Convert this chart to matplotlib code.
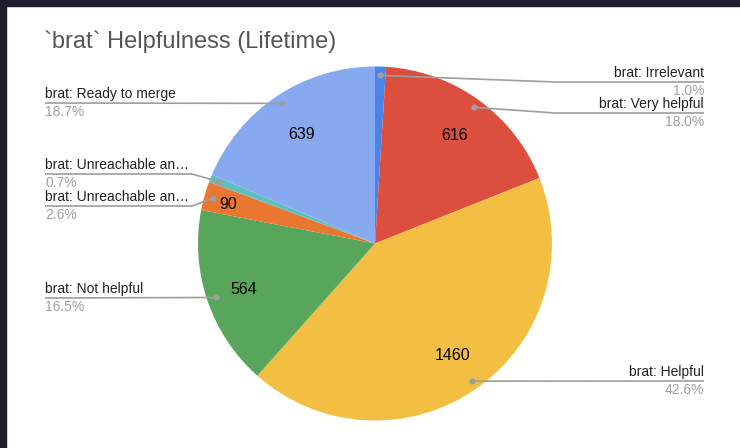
import numpy as np
import matplotlib
matplotlib.use("Agg")
import matplotlib.pyplot as plt
from matplotlib.patches import Rectangle

plt.rcParams["font.family"] = ["Liberation Sans", "DejaVu Sans"]

# Data
labels = ["brat: Irrelevant", "brat: Very helpful", "brat: Helpful", "brat: Not helpful",
          "brat: Unreachable an\u2026", "brat: Unreachable an\u2026", "brat: Ready to merge"]
counts = [34, 616, 1460, 564, 90, 24, 639]
percents = ["1.0%", "18.0%", "42.6%", "16.5%", "2.6%", "0.7%", "18.7%"]
show_value = [False, True, True, True, True, False, True]
colors = ["#4a84ea", "#dc4e3d", "#f2bf42", "#58a65c", "#ea7731", "#5fbfc0", "#86a9f0"]

W, H = 740, 448
fig = plt.figure(figsize=(W / 100, H / 100), dpi=100)
ax = fig.add_axes([0, 0, 1, 1])

cx, cy, R = 375, H - 243.5, 177
wedges, _ = ax.pie(counts, colors=colors, startangle=90, counterclock=False,
                   center=(cx, cy), radius=R, wedgeprops=dict(linewidth=0))
ax.set_xlim(0, W)
ax.set_ylim(0, H)
ax.set_aspect("equal")
ax.axis("off")

# dark frame on top and left
fig.patches.append(Rectangle((0, 1 - 6 / H), 1, 6 / H, transform=fig.transFigure,
                             color="#1e1e2e", zorder=10))
fig.patches.append(Rectangle((0, 0), 6 / W, 1, transform=fig.transFigure,
                             color="#1e1e2e", zorder=10))

ax.text(44, H - 42, "`brat` Helpfulness (Lifetime)", fontsize=17, color="#555555",
        ha="left", va="center")

# value labels inside slices
value_r = [0, 0.77, 0.76, 0.78, 0.86, 0, 0.75]
for w, c, show, vr in zip(wedges, counts, show_value, value_r):
    if not show:
        continue
    mid = np.deg2rad((w.theta1 + w.theta2) / 2)
    ax.text(cx + vr * R * np.cos(mid), cy + vr * R * np.sin(mid) - 2, str(c),
            fontsize=11.5, color="#000000", ha="center", va="center")

# leader lines: (label side, underline y in px, elbow x or None)
leaders = [("right", 82, 555), ("right", 113, 555), ("right", 381, None),
           ("left", 298, None), ("left", 206, 192), ("left", 174, 192), ("left", 103, None)]
line_c = "#9e9e9e"
for w, lab, pct, (side, uy, ex) in zip(wedges, labels, percents, leaders):
    mid = np.deg2rad((w.theta1 + w.theta2) / 2)
    dx, dy = cx + 0.95 * R * np.cos(mid), cy + 0.95 * R * np.sin(mid)
    y = H - uy
    end = 704 if side == "right" else 45
    if ex is None:
        xs, ys = [dx, end], [dy, y]
    else:
        xs, ys = [dx, ex, end], [dy, y, y]
    ax.plot(xs, ys, color=line_c, lw=1.2, solid_capstyle="butt", zorder=3)
    ax.plot(dx, dy, "o", ms=4.5, color=line_c, mec="none", zorder=4)
    ha = "right" if side == "right" else "left"
    ax.text(end, y + 2, lab, fontsize=10, color="#222222", ha=ha, va="bottom")
    ax.text(end, y - 1.5, pct, fontsize=10, color="#a0a0a0", ha=ha, va="top")

fig.savefig("out.png", dpi=100, facecolor="white")
